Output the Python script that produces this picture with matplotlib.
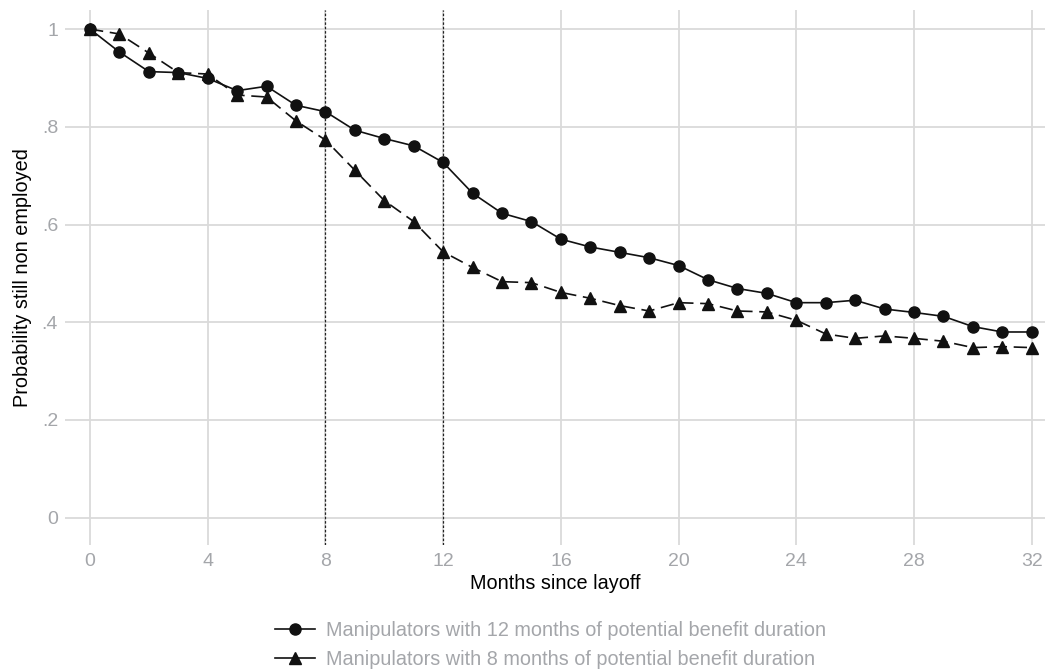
import matplotlib
matplotlib.use("Agg")
import matplotlib.pyplot as plt
from matplotlib.lines import Line2D

plt.rcParams['font.family'] = ['Liberation Sans', 'DejaVu Sans']

# months since layoff
months = list(range(0, 33))

# 12 months of potential benefit duration (circles)
pbd12 = [1.000, 0.953, 0.913, 0.911, 0.899, 0.874, 0.883, 0.844, 0.831, 0.793,
         0.776, 0.761, 0.727, 0.664, 0.623, 0.606, 0.570, 0.554, 0.543, 0.532,
         0.516, 0.487, 0.469, 0.459, 0.440, 0.440, 0.445, 0.427, 0.420, 0.412,
         0.391, 0.380, 0.380]

# 8 months of potential benefit duration (triangles)
pbd8 = [1.000, 0.990, 0.951, 0.911, 0.908, 0.865, 0.861, 0.812, 0.773, 0.711,
        0.649, 0.606, 0.544, 0.512, 0.483, 0.481, 0.461, 0.449, 0.434, 0.423,
        0.440, 0.438, 0.423, 0.421, 0.404, 0.376, 0.367, 0.372, 0.367, 0.361,
        0.348, 0.350, 0.348]

xticks = [0, 4, 8, 12, 16, 20, 24, 28, 32]
yticks = [0, 0.2, 0.4, 0.6, 0.8, 1.0]
ylabels = ['0', '.2', '.4', '.6', '.8', '1']
cutoffs = [8, 12]

labels = ['Manipulators with 12 months of potential benefit duration',
          'Manipulators with 8 months of potential benefit duration']

fig = plt.figure(figsize=(10.45, 6.7), dpi=100)
ax = fig.add_axes([0.0622, 0.1866, 0.9378, 0.7984])

grid_col = '#dadada'
for v in xticks:
    ax.axvline(v, color=grid_col, lw=1.3, zorder=0)
for v in yticks:
    ax.axhline(v, color=grid_col, lw=1.3, zorder=0)

for c in cutoffs:
    ax.axvline(c, color='#222222', lw=0.9, ls=(0, (2, 1.5)), zorder=1)

ax.plot(months, pbd12, color='#111111', lw=1.2, marker='o', ms=8, zorder=3)
ax.plot(months, pbd8, color='#111111', lw=1.2, ls=(0, (8, 4)), marker='^',
        ms=8, zorder=3)

ax.set_xlim(-0.85, 32.45)
ax.set_ylim(-0.056, 1.039)
ax.set_xticks(xticks)
ax.set_yticks(yticks)
ax.set_yticklabels(ylabels)
ax.tick_params(axis='both', length=0, labelsize=14, labelcolor='#a4a6aa')
ax.tick_params(axis='x', pad=6)
ax.tick_params(axis='y', pad=5)
for s in ax.spines.values():
    s.set_visible(False)

ax.set_xlabel('Months since layoff', fontsize=14.3, labelpad=3)
ax.set_ylabel('Probability still non employed', fontsize=14.3, labelpad=7)

handles = [Line2D([], [], color='#111111', lw=1.2, marker='o', ms=8),
           Line2D([], [], color='#111111', lw=1.2, marker='^', ms=8)]
leg = fig.legend(handles, labels, loc='center', bbox_to_anchor=(0.527, 0.037),
                 ncol=1, frameon=False, fontsize=14.3, handlelength=2.0,
                 labelspacing=0.5, handletextpad=0.6)
for t in leg.get_texts():
    t.set_color('#a4a6aa')

fig.savefig('out.png', dpi=100)
